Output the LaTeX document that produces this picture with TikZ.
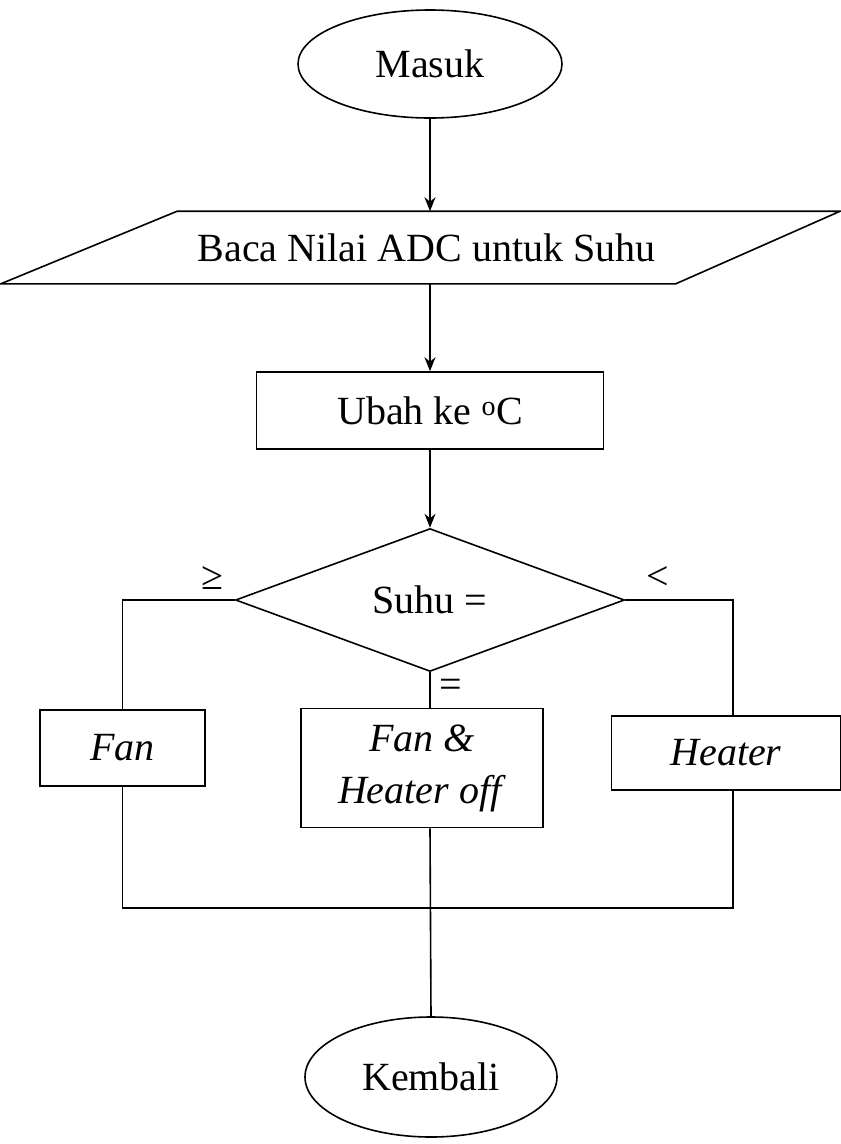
\documentclass[tikz,border=0pt]{standalone}
\usepackage{fontspec}
\setmainfont{Liberation Serif}
\usetikzlibrary{shapes.geometric,arrows.meta}

\begin{document}
\begin{tikzpicture}[x=1pt,y=-1pt,line width=1.6pt,
  every node/.style={font=\fontsize{40}{46}\selectfont},
  terminal/.style={draw,ellipse,inner sep=0pt},
  procbox/.style={draw,rectangle,inner sep=0pt,align=center},
  decision/.style={draw,diamond,inner sep=0pt,minimum width=389pt,minimum height=134pt},
  flow/.style={-{Stealth[length=14pt,width=11pt]}}]
\useasboundingbox (0,0) rectangle (841,1144);

% start
\node[terminal,minimum width=264pt,minimum height=108pt] (masuk) at (430,64) {Masuk};

% input
\node[inner sep=0pt,minimum width=497pt,minimum height=71pt] (baca) at (426.5,247.5) {Baca Nilai ADC untuk Suhu};
\draw (baca.north west) -- ++(663,0) -- (baca.south east) -- ++(-675,0) -- cycle;

% convert
\node[procbox,minimum width=347pt,minimum height=77pt] (ubah) at (430,410.5) {Ubah ke \textsuperscript{o}C};

% decision
\node[decision] (suhu) at (430,600) {Suhu =};
\node (ge) at (212,578) {≥};
\node (lt) at (658,578) {<};
\node (eq) at (451,688) {=};

% actions
\node[procbox,minimum width=165pt,minimum height=76pt] (fan) at (122.5,748) {\textit{Fan}};
\node[procbox,minimum width=242pt,minimum height=119pt] (both) at (422,768) {\textit{Fan \&}\\[6pt]\textit{Heater off}};
\node[procbox,minimum width=229pt,minimum height=74pt] (heater) at (726,753) {\textit{Heater}};

% end
\node[terminal,minimum width=252pt,minimum height=120pt] (kembali) at (431,1077) {Kembali};
\coordinate (join) at (430,908);
\coordinate (rbend) at (733,600);

\draw[flow] (masuk.south) -- (masuk.south |- baca.north);
\draw[flow] (ubah.north |- baca.south) -- (ubah.north);
\draw[flow] (ubah.south) -- (suhu.north);

\draw (suhu.west) -| (fan.north);
\draw (suhu.east) -- (rbend) -- (rbend |- heater.north);
\draw (suhu.south) -- (suhu.south |- both.north);

\draw (fan.south) -- (fan.south |- join) -- (join -| rbend) -- (rbend |- heater.south);
\draw (join |- both.south) -- (kembali.north);

\end{tikzpicture}
\end{document}
